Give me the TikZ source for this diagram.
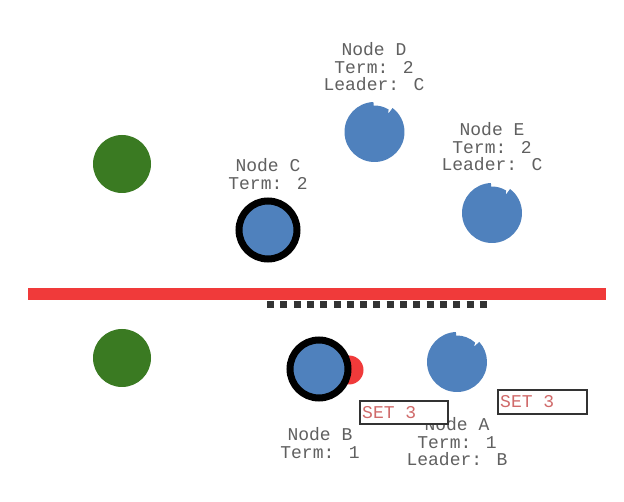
\documentclass[tikz,border=0pt]{standalone}
\usepackage{fontspec}
\newfontfamily\monofam{Liberation Mono}
\definecolor{nodeblue}{HTML}{4F81BD}
\definecolor{nodegreen}{HTML}{3A7A22}
\definecolor{partred}{HTML}{F03A3A}
\definecolor{labelgray}{HTML}{606060}
\definecolor{setred}{HTML}{D06A6A}
\definecolor{dashgray}{HTML}{333333}
\newcommand\notched[2]{% #1 centre coordinate name, #2 notch angle (visual)
  \fill[nodeblue] ([shift={(-92:30)}]#1) arc[start angle=-92, end angle={-#2-360}, radius=30]
    -- ([shift={(-#2:23)}]#1) -- ([shift={(-#2-5:26.5)}]#1)
    arc[start angle={-#2-5}, end angle=-92, radius=26.5] -- cycle;}
\begin{document}
\begin{tikzpicture}[x=1pt,y=-1pt,
  lbl/.style={font=\monofam\fontsize{18pt}{17.5pt}\selectfont, text=labelgray, align=center, inner sep=0pt},
  greendot/.style={circle, fill=nodegreen, minimum size=58pt, inner sep=0pt},
  leaderdot/.style={circle, fill=nodeblue, draw=black, line width=7pt, minimum size=58pt, inner sep=0pt},
  setbox/.style={draw=dashgray, line width=1.3pt, fill=white},
  settext/.style={font=\monofam\fontsize{18pt}{18pt}\selectfont, text=setred, inner sep=0pt, anchor=west}]
\path[use as bounding box, fill=white] (0,0) rectangle (624,502);
% partition
\fill[partred] (28,288) rectangle (606,300);
\coordinate (dl) at (267,304.5);
\coordinate (dr) at (487,304.5);
\draw[dashgray, line width=7pt, dash pattern=on 7pt off 6.3pt] (dl) -- (dr);
% green nodes
\node[greendot] (g1) at (122,164) {};
\node[greendot] (g2) at (122,358) {};
% upper partition
\node[lbl] (tD) at (374,67) {Node D\\Term: 2\\Leader: C};
\coordinate (cD) at (374.5,132);
\notched{cD}{53}
\node[lbl] (tE) at (492,147) {Node E\\Term: 2\\Leader: C};
\coordinate (cE) at (492,213);
\notched{cE}{53}
\node[lbl] (tC) at (268,174) {Node C\\Term: 2};
\node[leaderdot] (C) at (268,230) {};
% lower partition
\node[circle, fill=partred, minimum size=29pt, inner sep=0pt] (rB) at (349,370) {};
\node[leaderdot] (B) at (319,369) {};
\node[lbl] (tB) at (320,443) {Node B\\Term: 1};
\coordinate (cA) at (457,362);
\notched{cA}{42}
\node[lbl] (tA) at (457,442) {Node A\\Term: 1\\Leader: B};
\draw[setbox] (360,401) rectangle (448,424);
\node[settext] (s1) at (362,412.5) {SET 3};
\draw[setbox] (498,390) rectangle (587,414);
\node[settext] (s2) at (500,402) {SET 3};
\end{tikzpicture}
\end{document}
